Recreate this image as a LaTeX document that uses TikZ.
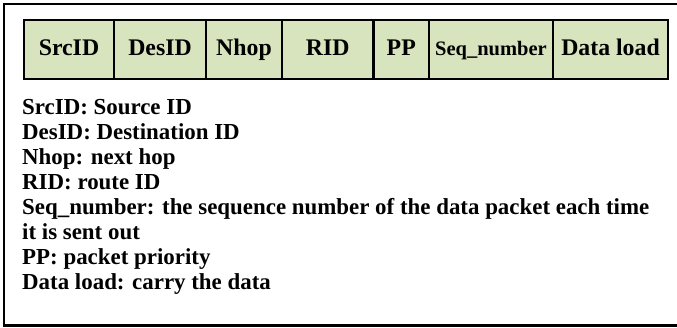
\documentclass[tikz,border=0pt]{standalone}
\usepackage{fontspec}
\setmainfont{Liberation Serif}
\definecolor{cellgreen}{HTML}{D7E4BD}
\begin{document}
\begin{tikzpicture}[x=1pt,y=-1pt,
  field/.style={draw=black, fill=cellgreen, line width=2.4pt, inner sep=0pt,
    minimum height=59pt, text height=15.5pt, text depth=3pt,
    font=\bfseries\fontsize{23.8}{25}\selectfont},
  note/.style={anchor=base west, inner sep=0pt,
    font=\bfseries\fontsize{22.9}{25}\selectfont}]
\useasboundingbox (0,0) rectangle (677,328);
% outer frame (its right side runs past the page edge)
\draw[line width=2.4pt] (4,4) rectangle (680,325.5);
% packet header fields
\node[field, minimum width=90.5pt] (src) at (69,49.5) {SrcID};
\node[field, minimum width=92pt] (des) at (160,49.5) {DesID};
\node[field, minimum width=76pt] (nhop) at (244,49.5) {Nhop};
\node[field, minimum width=91.5pt] (rid) at (327.75,49.5) {RID};
\node[field, minimum width=55.5pt] (pp) at (401.25,49.5) {PP};
\node[field, minimum width=124pt, font=\bfseries\fontsize{20.5}{22}\selectfont] (seq) at (491,49.5) {Seq\_number};
\node[field, minimum width=115pt] (load) at (610.5,49.5) {Data load};
% field legend
\node[note] (l1) at (22,115) {SrcID: Source ID};
\node[note] (l2) at (22,140) {DesID: Destination ID};
\node[note] (l3) at (22,165) {Nhop: next hop};
\node[note] (l4) at (22,190) {RID: route ID};
\node[note] (l5) at (22,215) {Seq\_number: the sequence number of the data packet each time};
\node[note] (l6) at (22,240) {it is sent out};
\node[note] (l7) at (22,265) {PP: packet priority};
\node[note] (l8) at (22,290) {Data load: carry the data};
\end{tikzpicture}
\end{document}
